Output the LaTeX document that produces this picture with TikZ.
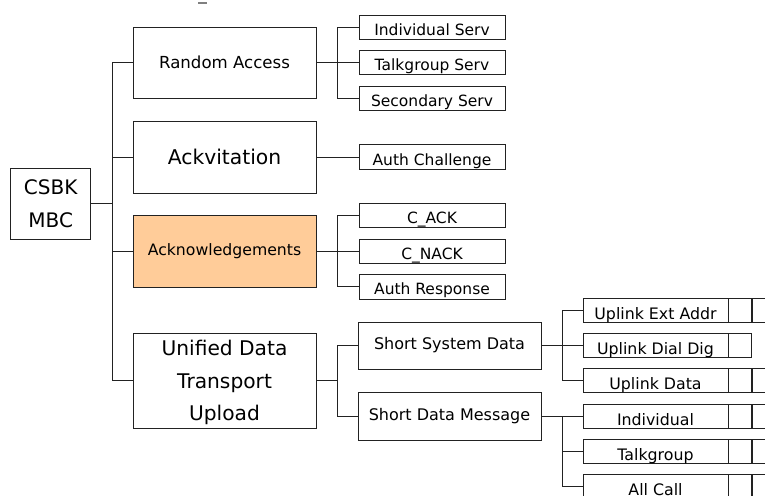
\documentclass[tikz,border=0pt]{standalone}
\usepackage{fontspec}
\setmainfont{DejaVu Sans}
\definecolor{peach}{HTML}{FFCC99}
\definecolor{edge}{HTML}{222222}
\tikzset{
  box/.style={draw=edge, line width=0.8pt, inner sep=0pt, align=center, text=black},
  lone/.style={box, minimum width=183pt},
  ltwo/.style={box, minimum width=146pt, minimum height=24pt, text height=16.6pt, text depth=0pt, font=\fontsize{15.5}{18}\selectfont},
  lthree/.style={box, minimum width=183pt, minimum height=47pt, font=\fontsize{16}{19}\selectfont},
  lfour/.style={box, minimum width=145pt, minimum height=24pt, text height=18pt, text depth=0pt, font=\fontsize{15.8}{18}\selectfont},
  cellbox/.style={draw=edge, line width=0.8pt, inner sep=0pt, minimum width=23pt, minimum height=24pt},
  widecell/.style={draw=edge, line width=0.8pt, inner sep=0pt, minimum width=39pt, minimum height=24pt},
  wire/.style={draw=edge, line width=0.8pt}
}
\begin{document}
\begin{tikzpicture}[x=1pt, y=-1pt]
\clip (0,0) rectangle (765,495);
\fill[white] (0,0) rectangle (765,495);
% tiny mark at top
\draw[gray, line width=1.2pt] (198,3) -- (207,3);

% root
\node[box, minimum width=80pt, minimum height=71pt, font=\fontsize{20}{33}\selectfont] (csbk) at (50.7,203.5) {CSBK\\MBC};

% level 1
\node[lone, minimum height=71pt, font=\fontsize{16.6}{20}\selectfont] (ra) at (224.5,62.5) {Random Access};
\node[lone, minimum height=72pt, font=\fontsize{20.3}{24}\selectfont] (ackv) at (224.5,157) {Ackvitation};
\node[lone, minimum height=72pt, fill=peach, font=\fontsize{15.7}{19}\selectfont] (ack) at (224.5,251) {Acknowledgements};
\node[lone, minimum height=95pt, text depth=0pt, font=\fontsize{20.2}{32.5}\selectfont] (udt) at (224.5,380.5) {Unified Data\\Transport\\Upload};

% level 2
\node[ltwo] (ind) at (432,27.5) {Individual Serv};
\node[ltwo] (tgs) at (432,62.5) {Talkgroup Serv};
\node[ltwo] (sec) at (432,98) {Secondary Serv};
\node[ltwo, minimum height=25pt] (auc) at (432,157) {Auth Challenge};
\node[ltwo] (cack) at (432,215) {C\_ACK};
\node[ltwo] (cnack) at (432,251) {C\_NACK};
\node[ltwo, minimum height=25pt] (aur) at (432,286.5) {Auth Response};

% level 3
\node[lthree] (ssd) at (449.5,345.5) {Short System Data};
\node[lthree, minimum height=48pt] (sdm) at (449.5,416) {Short Data Message};

% level 4
\node[lfour] (uea) at (655.5,310.5) {Uplink Ext Addr};
\node[lfour] (udd) at (655.5,345.5) {Uplink Dial Dig};
\node[lfour] (upd) at (655.5,380.5) {Uplink Data};
\node[lfour] (sind) at (655.5,416) {Individual};
\node[lfour] (stg) at (655.5,451) {Talkgroup};
\node[lfour] (sall) at (655.5,486) {All Call};

% cells
\node[cellbox, anchor=west] (uea1) at (uea.east) {};
\node[widecell, anchor=west] (uea2) at (uea1.east) {};
\node[cellbox, anchor=west] (udd1) at (udd.east) {};
\node[cellbox, anchor=west] (upd1) at (upd.east) {};
\node[widecell, anchor=west] (upd2) at (upd1.east) {};
\node[cellbox, anchor=west] (sind1) at (sind.east) {};
\node[widecell, anchor=west] (sind2) at (sind1.east) {};
\node[cellbox, anchor=west] (stg1) at (stg.east) {};
\node[widecell, anchor=west] (stg2) at (stg1.east) {};
\node[cellbox, anchor=west] (sall1) at (sall.east) {};
\node[widecell, anchor=west] (sall2) at (sall1.east) {};

% branch coordinates
\coordinate (t0) at (112,0);
\coordinate (t1) at (337,0);
\coordinate (t2) at (562,0);

% root -> level 1
\draw[wire] (csbk.east) -- (csbk.east -| t0);
\draw[wire] (ra.west) -- (ra.west -| t0) -- (udt.west -| t0) -- (udt.west);
\draw[wire] (ackv.west) -- (ackv.west -| t0);
\draw[wire] (ack.west) -- (ack.west -| t0);

% Random Access
\draw[wire] (ra.east) -- (tgs.west);
\draw[wire] (ind.west) -- (ind.west -| t1) -- (sec.west -| t1) -- (sec.west);
% Ackvitation
\draw[wire] (ackv.east) -- (auc.west);
% Acknowledgements
\draw[wire] (ack.east) -- (cnack.west);
\draw[wire] (cack.west) -- (cack.west -| t1) -- (aur.west -| t1) -- (aur.west);
% UDT
\draw[wire] (udt.east) -- (udt.east -| t1);
\draw[wire] (ssd.west) -- (ssd.west -| t1) -- (sdm.west -| t1) -- (sdm.west);
% Short System Data
\draw[wire] (ssd.east) -- (udd.west);
\draw[wire] (uea.west) -- (uea.west -| t2) -- (upd.west -| t2) -- (upd.west);
% Short Data Message
\draw[wire] (sdm.east) -- (sind.west);
\draw[wire] (sind.west -| t2) -- (sall.west -| t2) -- (sall.west);
\draw[wire] (stg.west -| t2) -- (stg.west);
\end{tikzpicture}
\end{document}
